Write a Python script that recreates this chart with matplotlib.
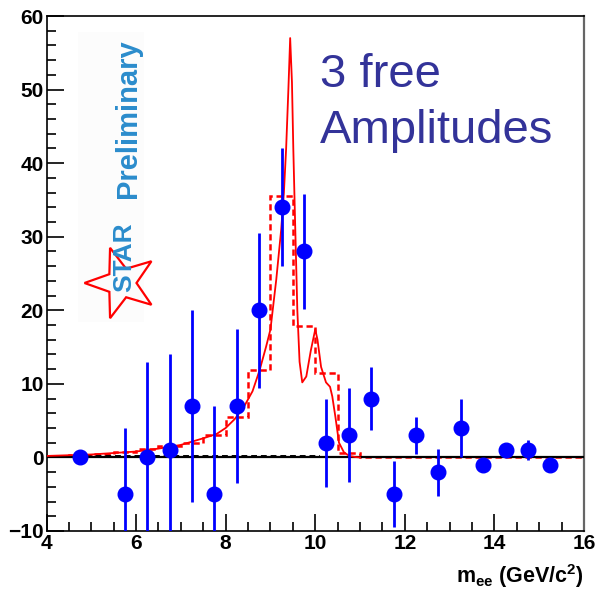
import matplotlib
matplotlib.use('Agg')
import matplotlib.pyplot as plt
import numpy as np

plt.rcParams['font.family'] = ['Liberation Sans', 'DejaVu Sans']
plt.rcParams['mathtext.fontset'] = 'custom'
plt.rcParams['mathtext.rm'] = 'Liberation Sans:bold'
plt.rcParams['mathtext.it'] = 'Liberation Sans:bold'
plt.rcParams['mathtext.bf'] = 'Liberation Sans:bold'

# measured yield per 0.5 GeV bin
mass = [4.75, 5.75, 6.25, 6.75, 7.25, 7.75, 8.25, 8.75, 9.25, 9.75, 10.25,
        10.75, 11.25, 11.75, 12.25, 12.75, 13.25, 13.75, 14.25, 14.75, 15.25]
counts = [0, -5, 0, 1, 7, -5, 7, 20, 34, 28, 2,
          3, 8, -5, 3, -2, 4, -1, 1, 1, -1]
errors = [0.5, 9, 13, 13, 13, 12, 10.5, 10.5, 8, 7.8, 6,
          6.4, 4.3, 4.5, 2.5, 3.2, 4, 0.6, 0.6, 1.4, 0.6]

# fitted line shape, binned
hist_edges = [4.0, 4.5, 5.0, 5.5, 6.0, 6.5, 7.0, 7.5, 8.0, 8.5, 9.0, 9.5, 10.0,
              10.5, 11.0, 11.5, 12.0, 12.5, 13.0, 13.5, 14.0, 14.5, 15.0, 15.5, 16.0]
hist_vals = [0.2, 0.3, 0.5, 0.8, 1.1, 1.5, 2.0, 3.1, 5.5, 11.9, 35.5, 17.8, 11.5,
             0.6, 0, 0, 0, 0, 0, 0, 0, 0, 0, 0]

# fit function (continuum + three Upsilon states)
fit_x = [4.0, 4.5, 5.0, 5.5, 6.0, 6.5, 7.0, 7.5, 7.8, 8.0, 8.2, 8.4, 8.6, 8.76,
         8.9, 9.0, 9.13, 9.24, 9.3, 9.35, 9.4, 9.44, 9.48, 9.51, 9.55, 9.6,
         9.65, 9.71, 9.8, 9.9, 10.0, 10.05, 10.13, 10.24, 10.33, 10.38, 10.45,
         10.53, 10.64, 10.76, 10.9, 11.0]
fit_y = [0.2, 0.3, 0.4, 0.6, 0.8, 1.2, 1.7, 2.6, 3.2, 4.0, 5.2, 6.8, 9.0, 11.9,
         15.0, 17.4, 24.2, 31, 36, 42, 50, 57, 51, 42, 32, 20,
         13, 10.2, 11, 14.5, 17.4, 16, 12.3, 10.2, 9.6, 8.3, 5.5,
         2.0, 0.7, 0.2, 0.05, 0]

# background component
bg_x = [4.0, 10.1]
bg_y = [0.25, 0.25]

fig = plt.figure(figsize=(5.96, 5.89), dpi=100)
ax = fig.add_axes([46.5/596, 1 - 531/589, 537.5/596, 515/589])

ax.stairs(hist_vals, hist_edges, color='red', lw=1.8, ls=(0, (2.5, 1.5)), zorder=2)
ax.axhline(0, color='black', lw=1.6, zorder=3)
ax.plot(bg_x, bg_y, color='black', lw=1.4, ls=(0, (3, 2)), zorder=3)
ax.plot(fit_x, fit_y, color='red', lw=1.3, zorder=4)
ax.errorbar(mass, counts, yerr=errors, fmt='o', color='blue', ms=10.5,
            elinewidth=2, capsize=0, zorder=5)

ax.set_xlim(4, 16)
ax.set_ylim(-10, 60)
ax.set_xticks(np.arange(4, 16.1, 2))
ax.set_xticks(np.arange(4, 16.1, 0.5), minor=True)
ax.set_yticks(np.arange(-10, 60.1, 10))
ax.set_yticks(np.arange(-10, 60.1, 2), minor=True)
ax.tick_params(which='major', direction='in', length=12, width=1.2, labelsize=15, pad=2)
ax.tick_params(which='minor', direction='in', length=6.5, width=1.2)
for lab in ax.get_xticklabels() + ax.get_yticklabels():
    lab.set_fontweight('bold')
for side in ['left', 'bottom', 'top']:
    ax.spines[side].set_linewidth(1.2)
ax.spines['right'].set_color('#666666')
ax.spines['right'].set_linewidth(1.6)

ax.set_xlabel('m$_{ee}$ (GeV/c$^{2}$)', fontsize=15.5, fontweight='bold', ha='right')
ax.xaxis.set_label_coords(1.0, -0.06)

# STAR Preliminary logo
px, py = 1 / 537.5, 1 / 515
ax.add_patch(plt.Rectangle((31 * px, (531 - 322) * py), 66 * px, 290 * py,
                           transform=ax.transAxes, color='#fcfcfc', lw=0, zorder=0))
cx, cy, r_out, r_in = 75, 248, 37, 15
ang = np.deg2rad(180 + np.arange(10) * 36)
rad = np.where(np.arange(10) % 2 == 0, r_out, r_in)
star_x = (cx + rad * np.cos(ang)) * px
star_y = (cy + rad * np.sin(ang)) * py
ax.add_patch(plt.Polygon(np.column_stack([star_x, star_y]), closed=True,
                         transform=ax.transAxes, fill=False, ec='red', lw=1.6, zorder=1))
ax.text(78 * px, 274 * py, 'STAR', transform=ax.transAxes, rotation=90,
        ha='center', va='center', fontsize=19, fontweight='bold', color='#2b8ccc', zorder=1)
ax.text(81 * px, 412 * py, 'Preliminary', transform=ax.transAxes, rotation=90,
        ha='center', va='center', fontsize=21, fontweight='bold', color='#2b8ccc', zorder=1)

ax.text(0.509, 0.862, '3 free', transform=ax.transAxes, fontsize=34,
        color='#333399', va='baseline', ha='left')
ax.text(0.509, 0.753, 'Amplitudes', transform=ax.transAxes, fontsize=34,
        color='#333399', va='baseline', ha='left')

plt.savefig('out.png', dpi=100)
